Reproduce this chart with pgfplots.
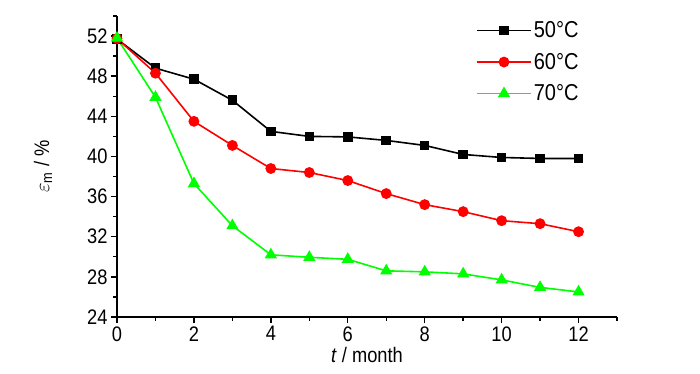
\documentclass[border=0pt]{standalone}
\usepackage{pgfplots}
\pgfplotsset{compat=1.18}
\usepackage{fontspec}
\setmainfont{Liberation Sans}
\newfontfamily\nfont[FakeStretch=0.87]{Liberation Sans}
\definecolor{pgreen}{RGB}{0,255,0}
\begin{document}
\begin{tikzpicture}
\path[use as bounding box] (-117pt,-57pt) rectangle (583pt,317pt);
\begin{axis}[
  at={(0,0)}, anchor=south west,
  scale only axis, width=500pt, height=301pt,
  xmin=0, xmax=13, ymin=24, ymax=54,
  axis lines*=left,
  axis line style={line width=1.4pt},
  tick align=outside,
  major tick length=6pt, minor tick length=3.5pt,
  every tick/.style={line width=1.4pt, black},
  xtick={0,2,...,12}, minor xtick={1,3,...,13},
  ytick={24,28,...,52}, minor ytick={26,30,...,54},
  /pgf/number format/assume math mode=true,
  tick label style={font=\nfont\fontsize{21}{24}\selectfont},
  xlabel={\nfont\fontsize{21}{24}\selectfont\textit{t} / month},
  ylabel={\nfont\fontsize{21}{24}\selectfont $\varepsilon$\textsubscript{m} / \%},
  xlabel style={at={(axis description cs:0.5,0)}, anchor=north, yshift=-27pt},
  ylabel style={at={(axis description cs:-0.148,0.5)}, anchor=center},
  legend style={draw=none, fill=none, at={(0.712,0.995)}, anchor=north west,
    font=\nfont\fontsize{23}{26}\selectfont, row sep=10pt},
  legend cell align=left,
  legend image code/.code={\draw[mark repeat=2,mark phase=2] plot coordinates {(0pt,0pt)(27pt,0pt)(54pt,0pt)};},
  every axis plot/.append style={line width=1.6pt},
]
\addplot[black, mark=square*, mark size=4pt, mark options={solid}] coordinates {
(0,51.7)(1,48.8)(2,47.7)(3,45.6)(4,42.5)(5,42.0)(6,41.95)(7,41.6)(8,41.1)(9,40.2)(10,39.9)(11,39.8)(12,39.8)};
\addlegendentry{50°C}
\addplot[red, mark=*, mark size=4.6pt] coordinates {
(0,51.75)(1,48.3)(2,43.5)(3,41.1)(4,38.8)(5,38.4)(6,37.6)(7,36.3)(8,35.2)(9,34.5)(10,33.6)(11,33.3)(12,32.5)};
\addlegendentry{60°C}
\addplot[pgreen, mark=triangle*, mark size=5.5pt] coordinates {
(0,51.8)(1,45.9)(2,37.3)(3,33.1)(4,30.2)(5,29.95)(6,29.75)(7,28.6)(8,28.5)(9,28.3)(10,27.7)(11,26.95)(12,26.5)};
\addlegendentry{70°C}
\end{axis}
\end{tikzpicture}
\end{document}
